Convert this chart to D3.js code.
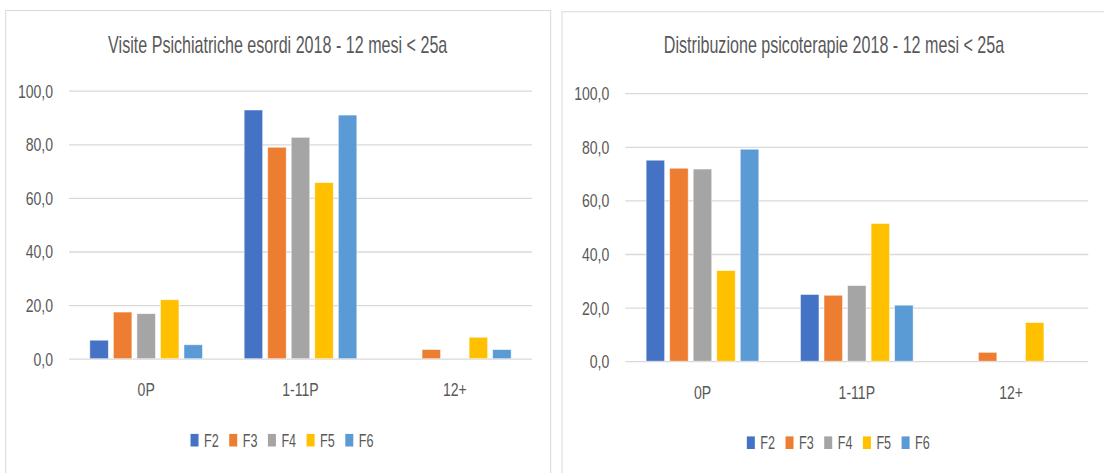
<!DOCTYPE html>
<html>
<head>
<meta charset="utf-8">
<script src="https://cdn.jsdelivr.net/npm/d3@7"></script>
<style>
  html, body { margin: 0; padding: 0; background: #ffffff; }
  svg { display: block; }
  text { font-family: "Liberation Sans", Arial, sans-serif; fill: #595959; }
</style>
</head>
<body>
<svg id="chart" width="1104" height="473"></svg>
<script>
// ---------- data ----------
const categories = ["0P", "1-11P", "12+"];
const seriesNames = ["F2", "F3", "F4", "F5", "F6"];
const seriesColors = ["#4472C4", "#ED7D31", "#A5A5A5", "#FFC000", "#5B9BD5"];
const yTicks = [0, 20, 40, 60, 80, 100];

const titleLeft = "Visite Psichiatriche esordi 2018 - 12 mesi < 25a";
const titleRight = "Distribuzione psicoterapie 2018 - 12 mesi < 25a";

// Visite Psichiatriche (values per category: 0P, 1-11P, 12+)
const visiteF2 = [6.9, 92.8, 0];
const visiteF3 = [17.4, 78.9, 3.4];
const visiteF4 = [16.8, 82.6, 0];
const visiteF5 = [22.0, 65.7, 8.0];
const visiteF6 = [5.2, 90.9, 3.4];

// Distribuzione psicoterapie
const psicoF2 = [75.0, 24.9, 0];
const psicoF3 = [72.0, 24.6, 3.3];
const psicoF4 = [71.7, 28.2, 0];
const psicoF5 = [33.8, 51.4, 14.4];
const psicoF6 = [79.1, 20.9, 0];

// ---------- drawing ----------
const svg = d3.select("#chart");
const SX = 0.78;        // horizontal squeeze for axis text
const SX_LEG = 0.70;    // horizontal squeeze for legend text
const SX_TITLE = 0.70;  // horizontal squeeze for titles

function drawPanel(cfg) {
  const g = svg.append("g");
  const px = cfg.panelX, dy = cfg.dy;

  // panel border
  g.append("rect")
    .attr("x", px).attr("y", 10.5 + dy / 2)
    .attr("width", cfg.panelW).attr("height", 500)
    .attr("fill", "#ffffff").attr("stroke", "#D9D9D9").attr("stroke-width", 1);

  const plotL = px + 63.3, plotR = px + 526.3;
  const plotT = 90.7 + dy, plotB = 358.7 + dy;

  const x0 = d3.scaleBand().domain(categories).range([plotL, plotR])
    .paddingInner(0.27).paddingOuter(0.135);
  const x1 = d3.scaleBand().domain(seriesNames).range([0, x0.bandwidth()])
    .paddingInner(0.214).paddingOuter(0);
  const y = d3.scaleLinear().domain([0, 100]).range([plotB, plotT]);

  // y axis with gridlines
  const yAxis = d3.axisLeft(y).tickValues(yTicks)
    .tickSize(-(plotR - plotL)).tickPadding(16)
    .tickFormat(d => d.toFixed(1).replace(".", ","));
  const ya = g.append("g").attr("transform", `translate(${plotL},0)`).call(yAxis);
  ya.select(".domain").remove();
  ya.selectAll(".tick line").attr("stroke", "#D9D9D9").attr("stroke-width", 1.3);
  ya.selectAll(".tick text")
    .attr("font-family", "'Liberation Sans', Arial, sans-serif")
    .attr("font-size", 18).attr("fill", "#595959")
    .attr("x", -16 / SX).attr("dy", "0.36em")
    .attr("transform", `scale(${SX},1)`);

  // bars
  const rows = seriesNames.map((s, i) => ({ name: s, color: seriesColors[i], values: cfg.values[i] }));
  rows.forEach(r => {
    g.append("g").selectAll("rect")
      .data(categories.map((c, j) => ({ c, v: r.values[j] })).filter(d => d.v > 0))
      .join("rect")
      .attr("x", d => x0(d.c) + x1(r.name))
      .attr("width", x1.bandwidth())
      .attr("y", d => y(d.v))
      .attr("height", d => y(0) - y(d.v))
      .attr("fill", r.color)
      .attr("stroke", "#ffffff").attr("stroke-opacity", 0.6).attr("stroke-width", 0.8);
  });

  // x axis labels
  const xAxis = d3.axisBottom(x0).tickSize(0).tickPadding(0);
  const xa = g.append("g").attr("transform", `translate(0,${plotB})`).call(xAxis);
  xa.select(".domain").remove();
  xa.selectAll(".tick text")
    .attr("font-family", "'Liberation Sans', Arial, sans-serif")
    .attr("font-size", 18).attr("fill", "#595959")
    .attr("x", 0).attr("y", 37.5).attr("dy", 0)
    .attr("transform", `scale(${SX},1)`);

  // title
  g.append("text")
    .attr("text-anchor", "middle")
    .attr("font-size", 23)
    .attr("transform", `translate(${px + 272},${53.3}) scale(${SX_TITLE},1)`)
    .text(cfg.title);

  // legend
  const lg = g.append("g");
  let cx = 0;
  seriesNames.forEach((s, i) => {
    const it = lg.append("g").attr("transform", `translate(${cx},0)`);
    it.append("rect").attr("x", 0).attr("y", -12.6).attr("width", 8).attr("height", 12.6)
      .attr("fill", seriesColors[i]);
    const t = it.append("text").attr("font-size", 18)
      .attr("transform", `translate(13.5,0) scale(${SX_LEG},1)`).text(s);
    const w = t.node().getComputedTextLength() * SX_LEG;
    cx += 13.5 + w + 10.5;
  });
  const totalW = cx - 10.5;
  lg.attr("transform", `translate(${px + 276.3 - totalW / 2},${446.5 + dy})`);
}

drawPanel({
  panelX: 5.7, panelW: 545, dy: 0, title: titleLeft,
  values: [visiteF2, visiteF3, visiteF4, visiteF5, visiteF6]
});
drawPanel({
  panelX: 562, panelW: 600, dy: 2.5, title: titleRight,
  values: [psicoF2, psicoF3, psicoF4, psicoF5, psicoF6]
});
</script>
</body>
</html>
